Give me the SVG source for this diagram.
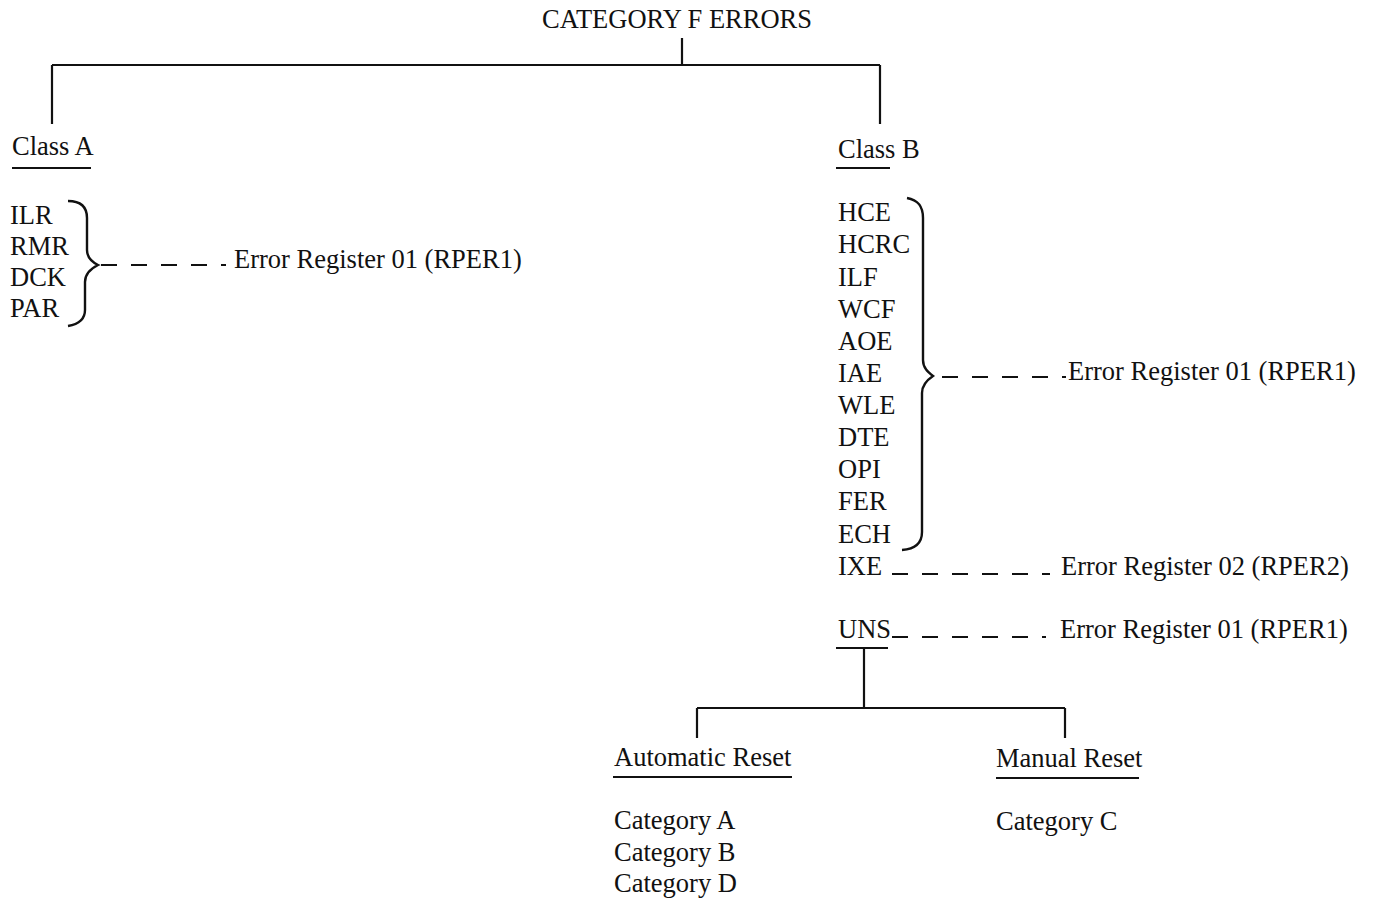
<svg xmlns="http://www.w3.org/2000/svg" width="1375" height="901" viewBox="0 0 1375 901">
<style>
text{font-family:"Liberation Serif","Times New Roman",serif;font-size:26.5px;fill:#111}
.ln{stroke:#111;stroke-width:2.2;fill:none}
.ul{stroke:#111;stroke-width:2;fill:none}
.dash{stroke:#111;stroke-width:2.2;fill:none;stroke-dasharray:16,14}
.br{stroke:#111;stroke-width:2.4;fill:none}
</style>
<rect width="1375" height="901" fill="#fff"/>
<g id="connectors">
<path class="ln" d="M682,38V65M52,65H880M52,65V124M880,65V124"/>
<path class="ln" d="M864,648V708M697,708H1065M697,708V738M1065,708V738"/>
<path class="dash" d="M101,265H226"/>
<path class="dash" d="M942,377H1066"/>
<path class="dash" d="M892,574H1050"/>
<path class="dash" d="M892,637H1046"/>
</g>
<g id="title"><text x="542" y="28">CATEGORY F ERRORS</text></g>
<g id="classA">
<text x="12" y="155">Class A</text>
<path class="ul" d="M12,168H91"/>
</g>
<g id="classA-items">
<text x="10" y="224">ILR</text>
<text x="10" y="255">RMR</text>
<text x="10" y="286">DCK</text>
<text x="10" y="317">PAR</text>
<path class="br" d="M68,201C80,201 87,206 87,218V250C87,257 92,262 98,265C92,268 85,273 85,282V310C85,319 80,324 68,326"/>
</g>
<g id="reg-a"><text x="234" y="268">Error Register 01 (RPER1)</text></g>
<g id="classB">
<text x="838" y="158">Class B</text>
<path class="ul" d="M836,168H890"/>
</g>
<g id="classB-items">
<text x="838" y="221">HCE</text>
<text x="838" y="253">HCRC</text>
<text x="838" y="286">ILF</text>
<text x="838" y="318">WCF</text>
<text x="838" y="350">AOE</text>
<text x="838" y="382">IAE</text>
<text x="838" y="414">WLE</text>
<text x="838" y="446">DTE</text>
<text x="838" y="478">OPI</text>
<text x="838" y="510">FER</text>
<text x="838" y="543">ECH</text>
<path class="br" d="M907,198C918,200 923,206 923,218V360C923,368 928,372 933,376C927,380 922,385 922,393V532C922,543 915,549 902,550"/>
</g>
<g id="reg-b1"><text x="1068" y="380">Error Register 01 (RPER1)</text></g>
<g id="ixe"><text x="838" y="575">IXE</text></g>
<g id="reg-b2"><text x="1061" y="575">Error Register 02 (RPER2)</text></g>
<g id="uns">
<text x="838" y="638">UNS</text>
<path class="ul" d="M836,648H888"/>
</g>
<g id="reg-uns"><text x="1060" y="638">Error Register 01 (RPER1)</text></g>
<g id="auto">
<text x="614" y="766">Automatic Reset</text>
<path class="ul" d="M613,777H792"/>
<text x="614" y="829">Category A</text>
<text x="614" y="861">Category B</text>
<text x="614" y="892">Category D</text>
</g>
<g id="manual">
<text x="996" y="767">Manual Reset</text>
<path class="ul" d="M996,778H1139"/>
<text x="996" y="830">Category C</text>
</g>
</svg>
